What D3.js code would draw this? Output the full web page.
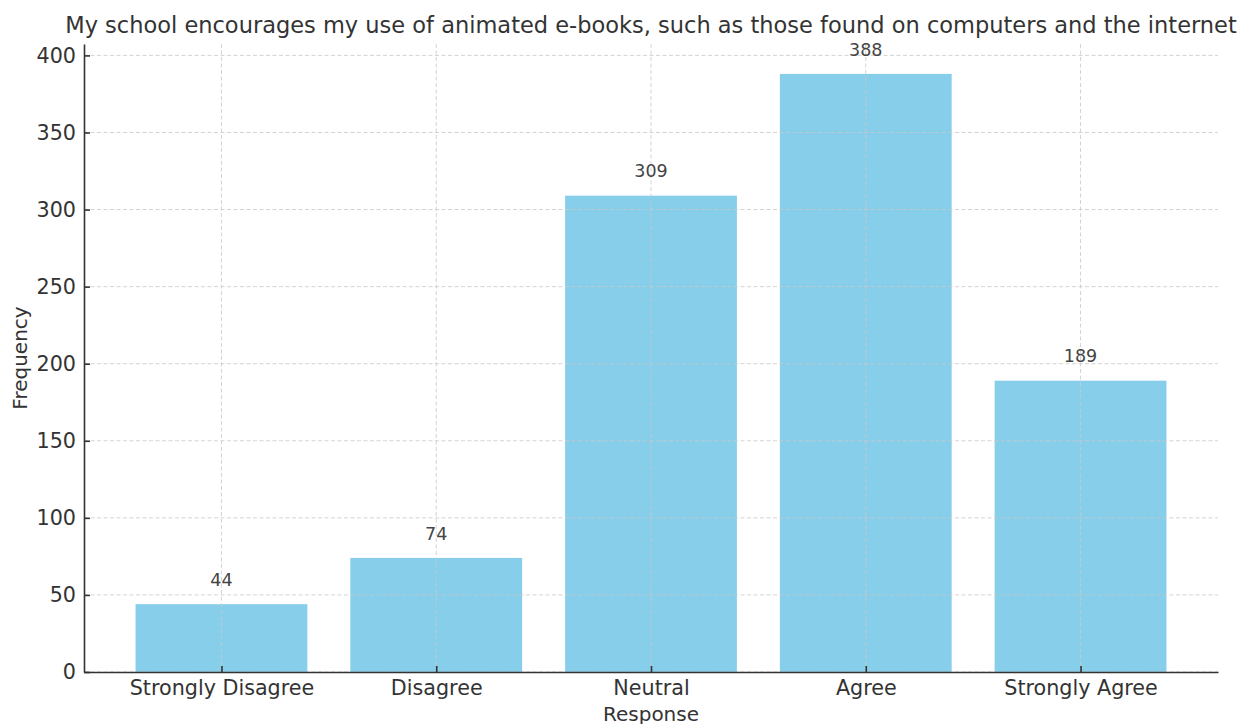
<!DOCTYPE html>
<html>
<head>
<meta charset="utf-8">
<script src="https://cdn.jsdelivr.net/npm/d3@7"></script>
<style>
  html, body { margin: 0; padding: 0; background: #fff; }
  svg { display: block; font-family: "DejaVu Sans", sans-serif; }
</style>
</head>
<body>
<svg id="chart" width="1247" height="724"></svg>
<script>
// Survey responses and their counts
const categories = ["Strongly Disagree", "Disagree", "Neutral", "Agree", "Strongly Agree"];
const frequencies = [44, 74, 309, 388, 189];
const yTicks = [0, 50, 100, 150, 200, 250, 300, 350, 400];
const titleText = "My school encourages my use of animated e-books, such as those found on computers and the internet";

const svg = d3.select("#chart");
const margin = { left: 84, right: 29, top: 44, bottom: 52 };
const W = 1247, H = 724;
const plotW = W - margin.left - margin.right;
const plotH = H - margin.top - margin.bottom;

const g = svg.append("g").attr("transform", `translate(${margin.left},${margin.top})`);

// Band positions: bar width 0.8 of the step, with 5% padding on the data span
const n = categories.length;
const xIdx = d3.scaleLinear().domain([-0.64, n - 1 + 0.64]).range([0, plotW]);
const barW = xIdx(0.8) - xIdx(0);
const yMax = d3.max(frequencies) * 1.05;
const y = d3.scaleLinear().domain([0, yMax]).range([plotH, 0]);

const textColor = "#333";
const gridColor = "#c8c8c8";
const tickFont = 20.7;

// Bars
g.append("g").selectAll("rect").data(frequencies).join("rect")
  .attr("x", (d, i) => xIdx(i) - barW / 2)
  .attr("width", barW)
  .attr("y", d => y(d))
  .attr("height", d => plotH - y(d))
  .attr("fill", "#87ceeb");

// Dashed grid, drawn above the bars
g.append("g").selectAll("line").data(categories).join("line")
  .attr("x1", (d, i) => xIdx(i)).attr("x2", (d, i) => xIdx(i))
  .attr("y1", 0).attr("y2", plotH)
  .attr("stroke", gridColor).attr("stroke-opacity", 0.8).attr("stroke-dasharray", "4,2.5");
g.append("g").selectAll("line").data(yTicks).join("line")
  .attr("x1", 0).attr("x2", plotW)
  .attr("y1", d => y(d)).attr("y2", d => y(d))
  .attr("stroke", gridColor).attr("stroke-opacity", 0.8).attr("stroke-dasharray", "4,2.5");

// Value labels
g.append("g").selectAll("text").data(frequencies).join("text")
  .attr("x", (d, i) => xIdx(i))
  .attr("y", d => y(d + 10) - 3)
  .attr("text-anchor", "middle")
  .attr("font-size", 17.5)
  .attr("fill", "#444")
  .text(d => d);

// Y axis
const yAxis = d3.axisLeft(y).tickValues(yTicks).tickSizeInner(-6).tickSizeOuter(0).tickPadding(8);
const ya = g.append("g").call(yAxis);
ya.select(".domain").attr("stroke", "#333").attr("stroke-width", 1.6);
ya.selectAll(".tick line").attr("stroke", "#333").attr("stroke-width", 1.6);
ya.selectAll(".tick text").attr("font-size", tickFont).attr("fill", textColor).attr("font-family", "DejaVu Sans");

// X axis
const xAxis = d3.axisBottom(xIdx).tickValues(d3.range(n)).tickFormat(i => categories[i])
  .tickSizeInner(-6).tickSizeOuter(0).tickPadding(8);
const xa = g.append("g").attr("transform", `translate(0,${plotH})`).call(xAxis);
xa.select(".domain").attr("stroke", "#333").attr("stroke-width", 1.6);
xa.selectAll(".tick line").attr("stroke", "#333").attr("stroke-width", 1.6);
xa.selectAll(".tick text").attr("font-size", tickFont).attr("fill", textColor).attr("font-family", "DejaVu Sans");

// Axis titles
svg.append("text")
  .attr("x", margin.left + plotW / 2).attr("y", 721)
  .attr("text-anchor", "middle").attr("font-size", 20).attr("fill", textColor)
  .text("Response");
svg.append("text")
  .attr("transform", `translate(27,${margin.top + plotH / 2}) rotate(-90)`)
  .attr("text-anchor", "middle").attr("font-size", 20).attr("fill", textColor)
  .text("Frequency");

// Chart title
svg.append("text")
  .attr("x", margin.left + plotW / 2).attr("y", 33)
  .attr("text-anchor", "middle").attr("font-size", 22.5).attr("fill", textColor)
  .text(titleText);
</script>
</body>
</html>
